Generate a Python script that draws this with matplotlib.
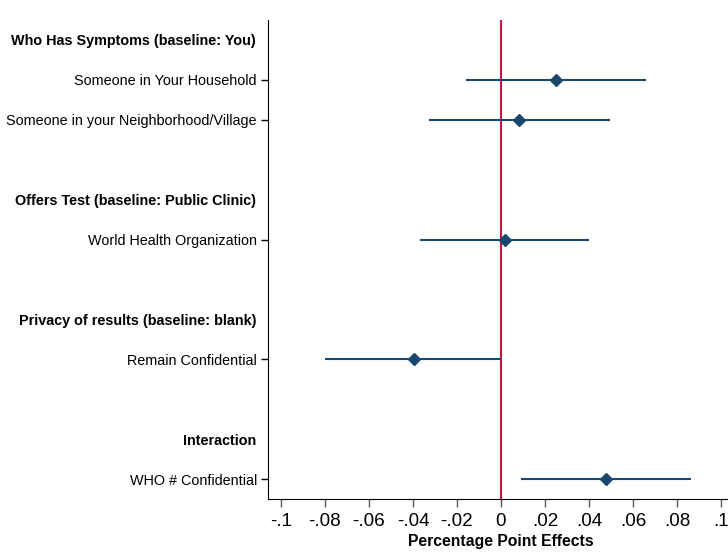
import matplotlib
matplotlib.use('Agg')
import matplotlib.pyplot as plt

plt.rcParams['font.family'] = ['Liberation Sans', 'DejaVu Sans']

# rows from top to bottom; headers have no estimate
row_labels = ['Who Has Symptoms (baseline: You)',
              'Someone in Your Household',
              'Someone in your Neighborhood/Village',
              '',
              'Offers Test (baseline: Public Clinic)',
              'World Health Organization',
              '',
              'Privacy of results (baseline: blank)',
              'Remain Confidential',
              '',
              'Interaction',
              'WHO # Confidential']
is_header = [True, False, False, False, True, False, False, True, False, False, True, False]

coef_rows = [1, 2, 5, 8, 11]
coefs = [0.025, 0.0084, 0.0019, -0.0396, 0.0478]
ci_low = [-0.016, -0.0326, -0.0366, -0.0798, 0.0093]
ci_high = [0.066, 0.0495, 0.0402, 0.0004, 0.0863]

xticks = [-0.1, -0.08, -0.06, -0.04, -0.02, 0, 0.02, 0.04, 0.06, 0.08, 0.1]
xtick_labels = ['-.1', '-.08', '-.06', '-.04', '-.02', '0', '.02', '.04', '.06', '.08', '.1']

navy = '#1a476f'
fig = plt.figure(figsize=(7.28, 5.52), dpi=100)
ax = fig.add_axes([268 / 728, 53 / 552, (734 - 268) / 728, (499 - 20) / 552])

ax.hlines(coef_rows, ci_low, ci_high, color=navy, lw=1.5, zorder=2)
ax.plot(coefs, coef_rows, 'D', color=navy, ms=6.5, zorder=3)
ax.axvline(0, color='#c4163f', lw=1.5, zorder=1)

ax.set_xlim(-0.1059, 0.1059)
ax.set_ylim(len(row_labels) - 0.5, -0.5)
ax.set_xticks(xticks)
ax.set_xticklabels(xtick_labels)
ax.set_xlabel('Percentage Point Effects', fontsize=11.3, fontweight='bold', labelpad=3)

ax.set_yticks(coef_rows)
ax.set_yticklabels([row_labels[i] for i in coef_rows])
ax.tick_params(axis='y', length=5, width=1, pad=3, labelsize=10.35)
ax.tick_params(axis='x', length=5.5, width=1, color='#555555', pad=4.5, labelsize=13.6)

# group headers in bold, right-aligned like the tick labels
for i, lab in enumerate(row_labels):
    if is_header[i]:
        ax.annotate(lab, xy=(0, i), xycoords=('axes fraction', 'data'),
                    xytext=(-8.5, -1), textcoords='offset points',
                    ha='right', va='center', fontsize=10.35, fontweight='bold')

for s in ['top', 'right']:
    ax.spines[s].set_visible(False)

fig.savefig('out.png', dpi=100)
